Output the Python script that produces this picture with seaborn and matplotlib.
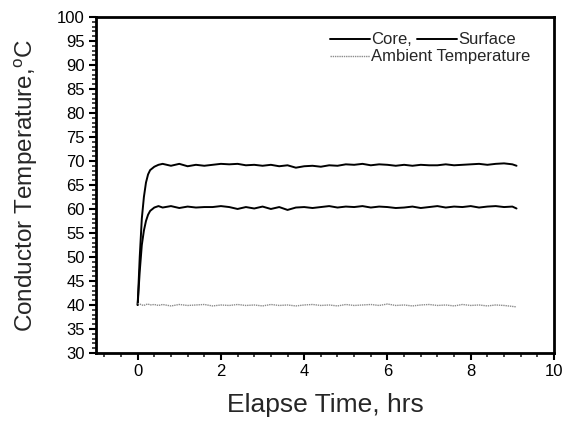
import matplotlib
matplotlib.use("Agg")
import matplotlib.pyplot as plt
import seaborn as sns
import numpy as np
import pandas as pd
from matplotlib.ticker import MultipleLocator
from matplotlib.lines import Line2D

time_hrs = [0, 0.05, 0.1, 0.15, 0.2, 0.25, 0.3, 0.4, 0.5, 0.6, 0.8, 1.0, 1.2, 1.4, 1.6, 1.8,
            2.0, 2.2, 2.4, 2.6, 2.8, 3.0, 3.2, 3.4, 3.6, 3.8, 4.0, 4.2, 4.4, 4.6, 4.8,
            5.0, 5.2, 5.4, 5.6, 5.8, 6.0, 6.2, 6.4, 6.6, 6.8, 7.0, 7.2, 7.4, 7.6, 7.8,
            8.0, 8.2, 8.4, 8.6, 8.8, 9.0, 9.1]
core = [40, 50, 58, 62.5, 65.5, 67.2, 68.1, 68.8, 69.2, 69.4, 69.0, 69.4, 68.9, 69.2, 69.0, 69.2,
        69.4, 69.3, 69.4, 69.1, 69.2, 69.0, 69.2, 68.9, 69.1, 68.6, 68.9, 69.0, 68.8, 69.1, 69.0,
        69.3, 69.2, 69.4, 69.1, 69.3, 69.2, 69.0, 69.2, 69.0, 69.2, 69.1, 69.1, 69.3, 69.1, 69.2,
        69.3, 69.4, 69.2, 69.4, 69.5, 69.3, 69.0]
surface = [40, 47, 52.5, 55.5, 57.5, 58.8, 59.6, 60.3, 60.6, 60.3, 60.6, 60.2, 60.5, 60.3, 60.4, 60.4,
           60.6, 60.4, 60.0, 60.4, 60.1, 60.5, 60.0, 60.4, 59.8, 60.3, 60.4, 60.2, 60.4, 60.6, 60.3,
           60.5, 60.4, 60.6, 60.3, 60.5, 60.4, 60.2, 60.3, 60.5, 60.2, 60.4, 60.6, 60.3, 60.5, 60.4,
           60.6, 60.3, 60.5, 60.6, 60.4, 60.5, 60.1]
ambient = [40.3, 40.2, 40.0, 39.9, 40.1, 40.2, 40.0, 40.1, 39.9, 40.1, 39.8, 40.1, 39.9, 40.0, 40.1, 39.8,
           40.0, 39.9, 40.1, 39.9, 40.0, 39.8, 40.1, 39.9, 40.0, 39.8, 40.0, 40.1, 39.9, 40.0, 39.8,
           40.1, 39.9, 40.0, 40.1, 39.9, 40.2, 39.9, 40.0, 39.8, 40.0, 40.1, 39.9, 40.0, 39.8, 40.1,
           39.9, 40.0, 39.8, 40.0, 39.9, 39.7, 39.6]

x_ticks = [0, 2, 4, 6, 8, 10]
y_ticks = list(range(30, 101, 5))

sns.set_style("ticks")
plt.rcParams['font.family'] = ['Liberation Sans', 'DejaVu Sans']
plt.rcParams['mathtext.fontset'] = 'custom'
plt.rcParams['mathtext.rm'] = 'Liberation Sans'

df = pd.DataFrame({"t": time_hrs, "Core": core, "Surface": surface, "Ambient": ambient})

fig = plt.figure(figsize=(5.76, 4.24), dpi=100)
ax = fig.add_axes([0.1667, 0.1675, 0.7951, 0.7925])

amb_style = dict(color="#8c8c8c", lw=1.0, linestyle=(0, (1, 0.6)))
sns.lineplot(data=df, x="t", y="Core", ax=ax, color="black", lw=1.4)
sns.lineplot(data=df, x="t", y="Surface", ax=ax, color="black", lw=1.4)
sns.lineplot(data=df, x="t", y="Ambient", ax=ax, **amb_style)

ax.set_xlim(-1, 10)
ax.set_ylim(30, 100)
ax.set_xticks(x_ticks)
ax.set_yticks(y_ticks)
ax.xaxis.set_minor_locator(MultipleLocator(0.4))
ax.yaxis.set_minor_locator(MultipleLocator(1))
ax.tick_params(which='major', direction='out', length=5, width=1.5, labelsize=12, colors='black', pad=3)
ax.tick_params(which='minor', direction='out', length=3, width=1.2)
for s in ax.spines.values():
    s.set_linewidth(2)
    s.set_color('black')
    s.set_visible(True)

ax.set_xlabel("Elapse Time, hrs", fontsize=19, labelpad=10)
ax.set_ylabel(r"Conductor Temperature,$^{\mathrm{o}}$C", fontsize=17.5, labelpad=12)

h1 = Line2D([], [], color='black', lw=1.4)
h2 = Line2D([], [], color='black', lw=1.4)
h3 = Line2D([], [], **amb_style)
leg1 = ax.legend([h1, h2], ["Core,", "Surface"], ncol=2, frameon=False, fontsize=12,
                 loc='center left', bbox_to_anchor=(0.51, 0.9315), handlelength=2.4,
                 handletextpad=0.1, columnspacing=0.3, borderaxespad=0, borderpad=0)
ax.add_artist(leg1)
ax.legend([h3], ["Ambient Temperature"], frameon=False, fontsize=12,
          loc='center left', bbox_to_anchor=(0.51, 0.881), handlelength=2.4,
          handletextpad=0.1, borderaxespad=0, borderpad=0)

fig.savefig("out.png", dpi=100)
